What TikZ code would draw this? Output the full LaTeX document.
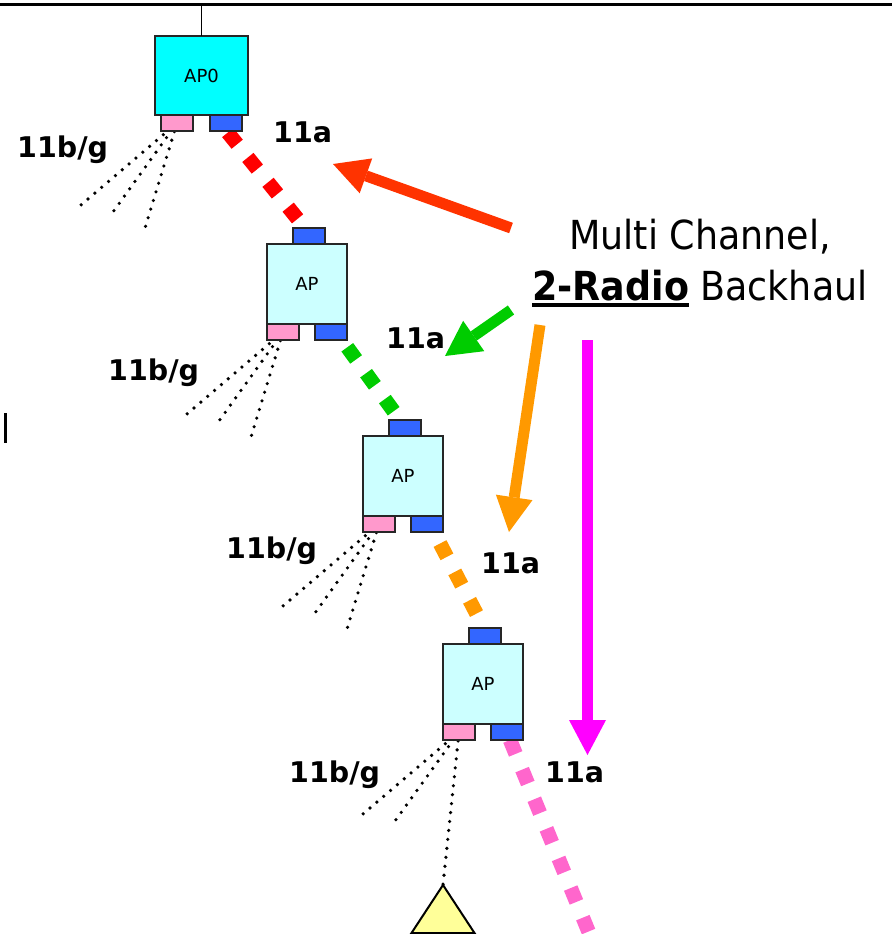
\documentclass[tikz,border=0pt]{standalone}
\usepackage{fontspec}
\setmainfont{DejaVu Sans}
\newfontfamily\calloutfont{DejaVu Sans}[FakeStretch=0.91]
\usetikzlibrary{arrows.meta}
\usetikzlibrary{backgrounds}

\definecolor{apzero}{HTML}{00FFFF}
\definecolor{apcyan}{HTML}{CCFFFF}
\definecolor{radioblue}{HTML}{3366FF}
\definecolor{radiopink}{HTML}{FF99CC}
\definecolor{clientyellow}{HTML}{FFFF99}
\definecolor{hopred}{HTML}{FF0000}
\definecolor{hopgreen}{HTML}{00CC00}
\definecolor{hoporange}{HTML}{FF9900}
\definecolor{hoppink}{HTML}{FF66CC}
\definecolor{notered}{HTML}{FF3300}
\definecolor{notemagenta}{HTML}{FF00FF}

\newcommand{\figmeshul}[1]{\setbox0\hbox{#1}\rlap{\rule[-7.3pt]{\wd0}{4.6pt}}\box0\relax}

\tikzset{
  apbox/.style={draw=black!85, line width=1.8pt, fill=apcyan, inner sep=0pt, outer sep=0pt,
    minimum width=80pt, minimum height=80pt, font=\fontsize{18}{20}\selectfont},
  radio/.style={draw=black!85, line width=1.8pt, inner sep=0pt, outer sep=0pt,
    minimum width=32pt, minimum height=16pt},
  hop/.style={line width=14.5pt, dash pattern=on 15pt off 17pt},
  fan/.style={line width=3.6pt, line cap=round, dash pattern=on 0pt off 9pt},
  bandlabel/.style={anchor=base west, inner sep=0pt, font=\fontsize{28.5}{30}\selectfont\bfseries},
  callout/.style={anchor=base, inner sep=0pt, font=\calloutfont\fontsize{40}{48}\selectfont},
  note/.style={line width=11pt, -{Triangle[length=35pt,width=37pt,line width=0pt]}},
}

\begin{document}
\begin{tikzpicture}[x=1pt,y=-1pt]
  \newcommand{\figmeshfanax}{-96}
  \newcommand{\figmeshfanay}{82}
  \newcommand{\figmeshfanbx}{-64}
  \newcommand{\figmeshfanby}{89}
  \newcommand{\figmeshfancx}{-32}
  \newcommand{\figmeshfancy}{105}
  \useasboundingbox (0,0) rectangle (892,934);
  \draw[line width=2.8pt] (0,4.5) -- (892,4.5);
  \fill (4,413) rectangle (7,443);
  \coordinate (uplink) at (201.5,4.5);
  \node[apbox, fill=apzero, minimum width=93pt, minimum height=79pt] (ap0) at (201.5,75.5) {AP0};
  \node[apbox] (ap1) at (307,284) {AP};
  \node[apbox] (ap2) at (403,476) {AP};
  \node[apbox] (ap3) at (483,684) {AP};
  \draw[line width=1.8pt] (ap0.north) -- (uplink);
  \node[radio, fill=radiopink, anchor=north west] (ap0g) at ([xshift=6pt]ap0.south west) {};
  \node[radio, fill=radioblue, anchor=north east] (ap0a) at ([xshift=-6pt]ap0.south east) {};
  \foreach \ap in {1,2,3} {
    \node[radio, fill=radiopink, anchor=north west] (ap\ap g) at (ap\ap.south west) {};
    \node[radio, fill=radioblue, anchor=north east] (ap\ap a) at (ap\ap.south east) {};
    \node[radio, fill=radioblue, anchor=south] (ap\ap u) at ([xshift=2pt]ap\ap.north) {};
  }
  \foreach \ap in {0,1,2,3} {
    \coordinate (ap\ap c1) at ([shift={(\figmeshfanax,\figmeshfanay)}]ap\ap g.center);
    \coordinate (ap\ap c2) at ([shift={(\figmeshfanbx,\figmeshfanby)}]ap\ap g.center);
    \coordinate (ap\ap c3) at ([shift={(\figmeshfancx,\figmeshfancy)}]ap\ap g.center);
  }
  \coordinate (client) at (443,885);
  \coordinate (tailend) at (592,940);
  \begin{scope}[on background layer]
    \foreach \ap in {0,1,2} {
      \draw[fan] (ap\ap g.center) -- (ap\ap c1);
      \draw[fan] (ap\ap g.center) -- (ap\ap c2);
      \draw[fan] (ap\ap g.center) -- (ap\ap c3);
    }
    \draw[fan] (ap3g.center) -- (ap3c1);
    \draw[fan] (ap3g.center) -- (ap3c2);
    \draw[fan] (ap3g.center) -- (client);
    \draw[hop, hopred, dash phase=30pt] ([xshift=0.5pt]ap0a.south) -- ([xshift=-4pt]ap1u.north);
    \draw[hop, hopgreen, dash phase=23pt] ([xshift=11pt]ap1a.south) -- ([xshift=-5pt]ap2u.north);
    \draw[hop, hoporange, dash phase=19pt] ([xshift=7pt]ap2a.south) -- ([xshift=-1pt]ap3u.north);
    \draw[hop, hoppink] ([xshift=3pt]ap3a.south) -- (tailend);
  \end{scope}
  \draw[line width=2pt, fill=clientyellow] (client) -- ++(-31.5,48) -- ++(63,0) -- cycle;
  \node[bandlabel] (ap0bg) at (17,157) {11b/g};
  \node[bandlabel] (ap0ba) at (273,142) {11a};
  \node[bandlabel] (ap1bg) at (108,380) {11b/g};
  \node[bandlabel] (ap1ba) at (386,348) {11a};
  \node[bandlabel] (ap2bg) at (226,558) {11b/g};
  \node[bandlabel] (ap2ba) at (481,573) {11a};
  \node[bandlabel] (ap3bg) at (289,782) {11b/g};
  \node[bandlabel] (ap3ba) at (545,782) {11a};
  \node[callout] (chline) at (700,249) {Multi Channel,};
  \node[callout] (rdline) at (700,300) {\figmeshul{\bfseries 2-Radio} Backhaul};
  \coordinate (redtail) at (511,228);
  \coordinate (redtip) at (333,164);
  \coordinate (greentail) at (511,310);
  \coordinate (greentip) at (445,356);
  \coordinate (orangetail) at (540,325);
  \coordinate (orangetip) at (509,532);
  \coordinate (magentatail) at (587.5,340);
  \coordinate (magentatip) at (587.5,755);
  \draw[note, notered] (redtail) -- (redtip);
  \draw[note, hopgreen] (greentail) -- (greentip);
  \draw[note, hoporange] (orangetail) -- (orangetip);
  \draw[note, notemagenta] (magentatail) -- (magentatip);
\end{tikzpicture}
\end{document}
